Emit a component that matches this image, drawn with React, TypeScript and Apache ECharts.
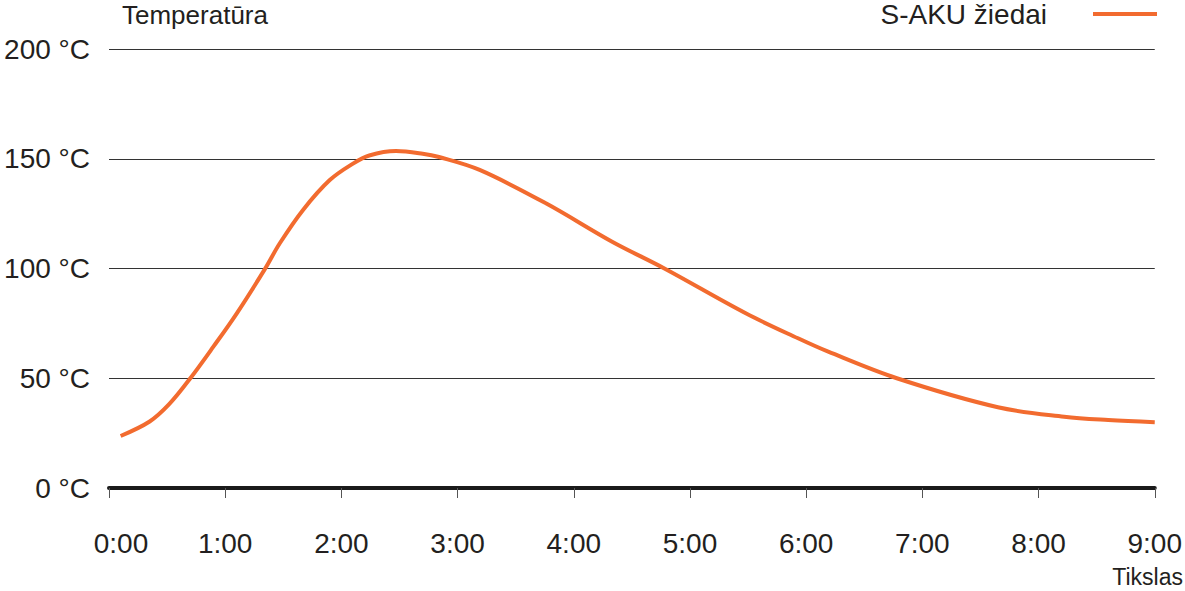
import React, { useEffect, useRef } from "react";
import * as echarts from "echarts";

const seriesName = "S-AKU žiedai";
const hours = [0.1, 0.35, 0.52, 0.7, 0.9, 1.1, 1.34, 1.47, 1.67, 1.9, 2.1, 2.24, 2.47, 2.7, 2.84, 3.19, 3.76, 4.33, 4.78, 5.48, 5.93, 6.19, 6.78, 7.65, 8.22, 8.6, 9.0];
const temps = [23.7, 30.3, 38.3, 50, 64.5, 79.6, 99.6, 111.5, 126.7, 140.3, 147.8, 151.5, 153.5, 152.3, 150.8, 144.9, 129.7, 112.2, 100, 79.6, 68.2, 62.1, 50, 36.8, 32.5, 31, 30];
const yTitle = "Temperatūra";
const xTitle = "Tikslas";

const FONT = "'Liberation Sans', Arial, Helvetica, sans-serif";
const TEXT = "#231f20";
const ORANGE = "#f26b2f";

export default function App() {
  const ref = useRef<HTMLDivElement>(null);
  useEffect(() => {
    if (!ref.current) return;
    const chart = echarts.init(ref.current, undefined, { renderer: "svg" });
    chart.setOption({
      animation: false,
      textStyle: { fontFamily: FONT, color: TEXT },
      grid: { left: 109, right: 28, top: 49, bottom: 103, containLabel: false },
      legend: {
        right: 28,
        top: 0,
        padding: 0,
        align: "right",
        icon: "rect",
        itemWidth: 64,
        itemHeight: 4,
        textStyle: { fontFamily: FONT, fontSize: 28, lineHeight: 22, color: TEXT, padding: [0, 41, 0, 0] },
        data: [{ name: seriesName, itemStyle: { color: ORANGE } }],
      },
      xAxis: {
        type: "value",
        min: 0,
        max: 9,
        interval: 1,
        axisLine: { show: true, onZero: false, lineStyle: { color: "#1a1a1a", width: 4 } },
        axisTick: { show: true, length: 10, lineStyle: { color: "#555", width: 1 } },
        splitLine: { show: false },
        axisLabel: {
          margin: 41,
          fontSize: 28,
          fontFamily: FONT,
          color: TEXT,
          formatter: (v: number) => (v === 0 ? "{first|0:00}" : `${v}:00`),
          rich: { first: { fontSize: 28, fontFamily: FONT, color: TEXT, padding: [0, 0, 0, 24] } },
        },
      },
      yAxis: {
        type: "value",
        min: 0,
        max: 200,
        interval: 50,
        axisLine: { show: false },
        axisTick: { show: false },
        splitLine: { show: true, lineStyle: { color: "#333", width: 1 } },
        axisLabel: {
          margin: 19,
          fontSize: 28,
          fontFamily: FONT,
          color: TEXT,
          formatter: (v: number) => `${v} °C`,
        },
      },
      graphic: [
        { type: "text", x: 122, y: 15, style: { text: yTitle, font: `26px ${FONT}`, fill: TEXT, textVerticalAlign: "middle" } },
        { type: "text", x: 1183, y: 577, style: { text: xTitle, font: `23px ${FONT}`, fill: TEXT, textAlign: "right", textVerticalAlign: "middle" } },
      ],
      series: [
        {
          name: seriesName,
          type: "line",
          smooth: 0.35,
          showSymbol: false,
          symbol: "none",
          lineStyle: { color: ORANGE, width: 4 },
          itemStyle: { color: ORANGE },
          data: hours.map((h, i) => [h, temps[i]]),
        },
      ],
    });
    return () => chart.dispose();
  }, []);
  return <div ref={ref} style={{ width: 1185, height: 591, position: "absolute", left: 0, top: 0 }} />;
}
